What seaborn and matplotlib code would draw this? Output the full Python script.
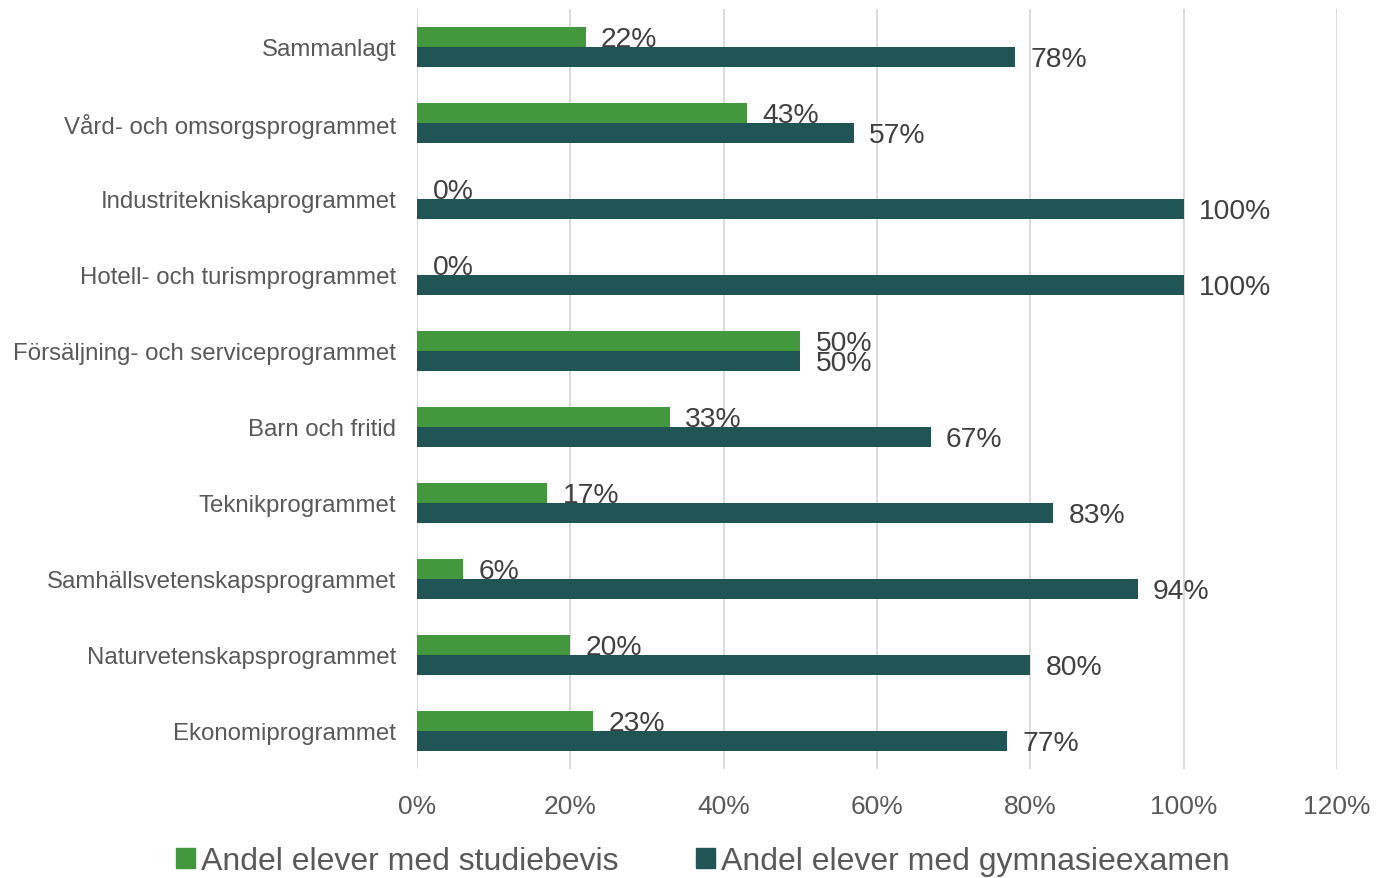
"""
Andel elever med studiebevis / gymnasieexamen per program.
"""

import pandas as pd
import matplotlib.pyplot as plt
import seaborn as sns
from matplotlib.patches import Patch

# Data
PROGRAM = [
    "Sammanlagt",
    "Vård- och omsorgsprogrammet",
    "Industritekniskaprogrammet",
    "Hotell- och turismprogrammet",
    "Försäljning- och serviceprogrammet",
    "Barn och fritid",
    "Teknikprogrammet",
    "Samhällsvetenskapsprogrammet",
    "Naturvetenskapsprogrammet",
    "Ekonomiprogrammet",
]
STUDIEBEVIS = [0.22, 0.43, 0.0, 0.0, 0.50, 0.33, 0.17, 0.06, 0.20, 0.23]
EXAMEN = [0.78, 0.57, 1.0, 1.0, 0.50, 0.67, 0.83, 0.94, 0.80, 0.77]
SERIER = ["Andel elever med studiebevis", "Andel elever med gymnasieexamen"]
XTICKS = [0, 0.2, 0.4, 0.6, 0.8, 1.0, 1.2]

FARGER = ["#43973C", "#215454"]
GRA = "#595959"

sns.set_style("white")
plt.rcParams["font.family"] = ["Liberation Sans", "DejaVu Sans"]


def main():
    df = pd.DataFrame({
        "Program": PROGRAM * 2,
        "Andel": STUDIEBEVIS + EXAMEN,
        "Serie": [SERIER[0]] * len(PROGRAM) + [SERIER[1]] * len(PROGRAM),
    })

    fig = plt.figure(figsize=(13.81, 8.79), dpi=100)
    ax = fig.add_axes([0.302, 0.124, 0.666, 0.865])

    sns.barplot(data=df, y="Program", x="Andel", hue="Serie", order=PROGRAM,
                hue_order=SERIER, palette=FARGER, width=0.53, orient="h",
                saturation=1, legend=False, ax=ax, zorder=3, linewidth=0)

    # etiketter - den mörka stapeln täcker nederkanten av den gröna etiketten
    for i, cont in enumerate(ax.containers):
        for bar in cont:
            v = bar.get_width()
            y = bar.get_y() + bar.get_height() / 2 + (0.03 if i == 0 else 0.03)
            ax.text(v + 0.02, y, f"{v:.0%}",
                    va="center", ha="left", fontsize=20.3, color="#404040",
                    zorder=2 if i == 0 else 4)

    ax.set_xlim(0, 1.2)
    ax.set_xticks(XTICKS)
    ax.set_xticklabels([f"{t:.0%}" for t in XTICKS])
    ax.grid(axis="x", color="#D9D9D9", linewidth=1.3, zorder=0)
    ax.set_axisbelow(True)
    for s in ax.spines.values():
        s.set_visible(False)
    ax.tick_params(axis="x", length=0, pad=18, labelsize=19, labelcolor=GRA)
    ax.tick_params(axis="y", length=0, pad=15, labelsize=17.3, labelcolor=GRA)
    ax.set_xlabel("")
    ax.set_ylabel("")

    handles = [Patch(color=c) for c in FARGER]
    fig.legend(handles, SERIER, loc="center", bbox_to_anchor=(0.509, 0.019),
               ncol=2, frameon=False, fontsize=23, labelcolor=GRA,
               handlelength=0.6, handleheight=0.6, handletextpad=0.2,
               columnspacing=2.4)

    fig.savefig("out.png", dpi=100)
    plt.close(fig)


if __name__ == "__main__":
    main()
